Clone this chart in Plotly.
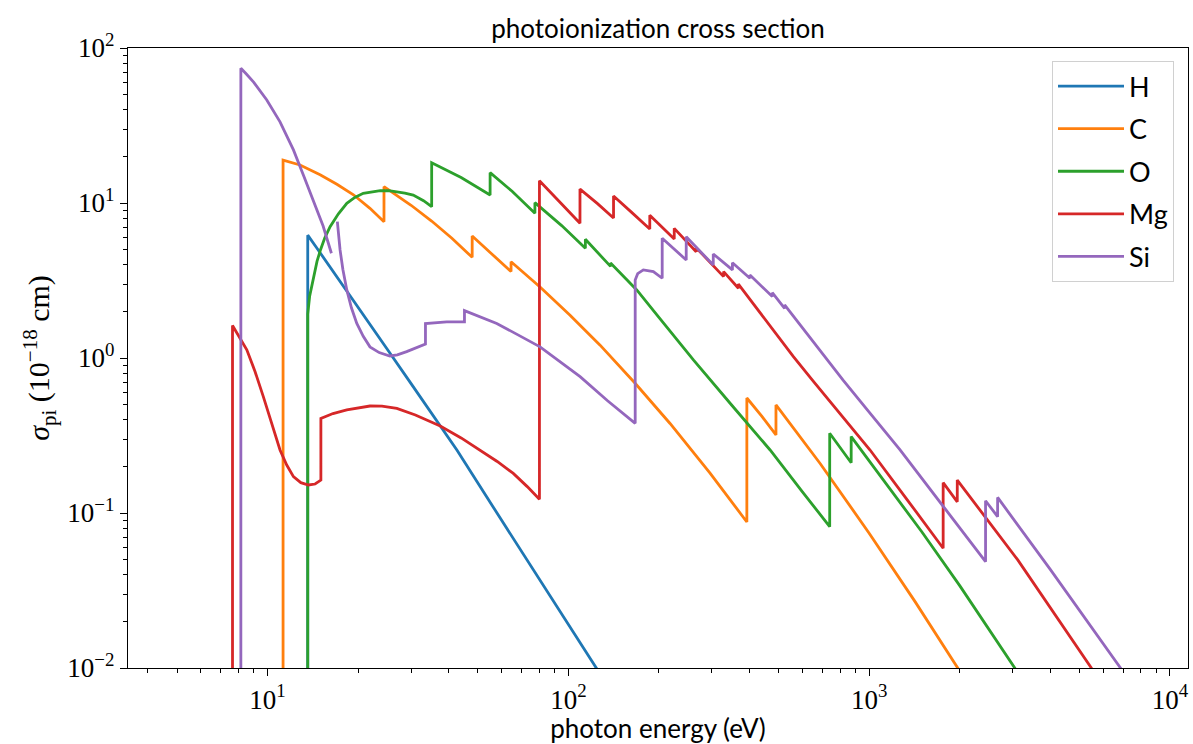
import plotly.graph_objects as go

# ---------------- data (photon energy in eV, cross section in 1e-18 cm^2) ----------------
E_H = [13.6, 13.6, 14.5, 16, 19.3, 25, 30, 38.4, 42.6, 60, 80, 109.4, 124, 150]
S_H = [1e-3, 6.2, 5.2, 3.96, 2.37, 1.14, 0.683, 0.343, 0.255, 0.0897, 0.0374, 0.0144, 0.0100, 0.0056]

E_C = [11.26, 11.26, 12.82, 13.8, 14.95, 17, 19.3, 21.9, 23.1, 24.38, 24.38, 27, 30, 35.1, 41,
       47.89, 47.89, 56, 64.49, 64.49, 80.5, 101.3, 127.5, 166.7, 217.8, 295.8, 392.1, 392.1,
       440, 490.0, 490.0, 688, 1000, 1421, 1975, 2374]
S_C = [1e-3, 18.9, 17.6, 16.5, 15.2, 13.2, 11.3, 9.24, 8.37, 7.58, 12.75, 11.1, 9.67, 7.65, 5.93,
       4.46, 6.12, 4.64, 3.61, 4.18, 2.87, 1.89, 1.21, 0.687, 0.378, 0.181, 0.0875, 0.552,
       0.42, 0.319, 0.498, 0.208, 0.0741, 0.0268, 0.0100, 0.0057]

E_O = [13.6, 13.6, 13.8, 14.2, 14.6, 15.0, 15.5, 16.14, 17.2, 18.34, 19.5, 20.8, 22.2, 23.7,
       25.3, 26.9, 28.6, 30.5, 33, 35.12, 35.12, 44, 54.93, 54.93, 65, 77.41, 77.41, 95,
       113.9, 113.9, 138.1, 138.1, 168.8, 200, 260.4, 350, 468.5, 600, 739.3, 739.3, 871.4,
       871.4, 1500, 2000, 3055, 3500]
S_O = [1e-3, 1.92, 2.5, 3.35, 4.2, 5.0, 5.96, 7.04, 8.51, 9.95, 10.86, 11.55, 11.83, 12.0,
       12.0, 11.8, 11.56, 11.26, 10.35, 9.47, 18.2, 14.6, 11.26, 15.7, 11.9, 8.58, 10.05, 7.15,
       5.1, 5.83, 3.90, 4.10, 2.75, 1.83, 0.971, 0.494, 0.255, 0.137, 0.0816, 0.327, 0.211,
       0.311, 0.0751, 0.0340, 0.0100, 0.0067]

E_Mg = [7.646, 7.646, 8.53, 9.09, 9.68, 10.33, 11.0, 11.58, 12.19, 12.9, 13.67, 14.39, 15.04,
        15.04, 16.5, 18.34, 21.9, 24, 26.9, 31, 37.5, 44, 50.9, 58, 65.6, 73, 80.14, 80.14,
        95, 109.3, 109.3, 125, 141.3, 141.3, 162, 186.5, 186.5, 224.9, 224.9, 266.0, 266.0,
        328.2, 328.2, 367.5, 367.5, 450, 560, 647.5, 800, 1007, 1350, 1762, 1762, 1963, 1963,
        3119, 5480, 6500]
S_Mg = [1e-3, 1.62, 1.13, 0.816, 0.563, 0.379, 0.255, 0.204, 0.1715, 0.157, 0.1516, 0.1538,
        0.163, 0.408, 0.438, 0.462, 0.490, 0.489, 0.473, 0.429, 0.364, 0.305, 0.255, 0.215,
        0.180, 0.148, 0.1226, 13.9, 9.84, 7.40, 12.3, 9.9, 8.0, 11.1, 8.73, 6.8, 8.35, 5.85,
        6.86, 4.85, 5.15, 3.35, 3.61, 2.82, 3.0, 1.77, 1.02, 0.721, 0.439, 0.255, 0.119,
        0.0592, 0.157, 0.118, 0.163, 0.0498, 0.0100, 0.0063]

E_Si = [8.15, 8.15, 8.5, 9.0, 9.94, 10.5, 11.0, 11.6, 12.19, 13.2, 14.2, 15.3, 16.3, None,
        17.06, 17.42, 17.8, 18.34, 19.0, 19.8, 20.8, 21.9, 23.5, 25.5, 27, 29.0, 33.49, 33.49,
        39.4, 45.14, 45.14, 57.8, 68, 80.5, 109.4, 135, 166.8, 166.8, 170, 177.5, 191.7,
        205.1, 205.1, 246.5, 246.5, 303.2, 303.2, 351.1, 351.1, 401.4, 401.4, 476.4, 476.4,
        523.5, 523.5, 650, 819, 1000, 1267, 1800, 2437.7, 2437.7, 2673.2, 2673.2, 4000,
        6850, 8000]
S_Si = [1e-3, 74.0, 67.9, 60.0, 46.2, 38.8, 33.4, 26.9, 22.0, 14.9, 10.46, 7.1, 4.74, None,
        7.58, 4.98, 3.72, 2.75, 2.11, 1.67, 1.38, 1.18, 1.084, 1.03, 1.047, 1.10, 1.23, 1.67,
        1.71, 1.71, 2.02, 1.67, 1.41, 1.18, 0.758, 0.530, 0.379, 3.19, 3.5, 3.70, 3.61,
        3.27, 5.92, 4.29, 6.06, 3.98, 4.69, 3.70, 4.12, 3.27, 3.43, 2.49, 2.64,
        2.09, 2.20, 1.28, 0.721, 0.448, 0.255, 0.1046, 0.0485, 0.120, 0.0947, 0.126, 0.0433,
        0.0100, 0.0066]

series = [("H", E_H, S_H, "#1f77b4"),
          ("C", E_C, S_C, "#ff7f0e"),
          ("O", E_O, S_O, "#2ca02c"),
          ("Mg", E_Mg, S_Mg, "#d62728"),
          ("Si", E_Si, S_Si, "#9467bd")]

x_major = [10, 100, 1000, 10000]
x_major_text = ["10<sup>1</sup>", "10<sup>2</sup>", "10<sup>3</sup>", "10<sup>4</sup>"]
y_major = [0.01, 0.1, 1, 10, 100]
y_major_text = ["10<sup>−2</sup>", "10<sup>−1</sup>", "10<sup>0</sup>", "10<sup>1</sup>", "10<sup>2</sup>"]

x_minor = [m * 10 ** k for k in range(0, 5) for m in range(2, 10)]
y_minor = [m * 10.0 ** k for k in range(-2, 2) for m in range(2, 10)]

fig = go.Figure()
for name, xs, ys, col in series:
    fig.add_trace(go.Scatter(x=xs, y=ys, mode="lines", name=name, legendgroup=name,
                             line=dict(color=col, width=2.8), connectgaps=False))

serif = "Liberation Serif, DejaVu Serif, serif"
sans = "Lato, DejaVu Sans, sans-serif"

fig.update_layout(
    width=1193, height=744, autosize=False,
    margin=dict(l=128, r=5, t=48, b=76),
    paper_bgcolor="white", plot_bgcolor="white",
    title=dict(text="photoionization cross section", x=0.5, xref="paper", xanchor="center",
               y=1 - 29 / 744, yref="container", yanchor="middle",
               font=dict(family=sans, size=26, color="black")),
    legend=dict(x=0.9868, xanchor="right", y=0.979, yanchor="top",
                bgcolor="white", bordercolor="#d0d0d0", borderwidth=1,
                font=dict(family=sans, size=27, color="black"),
                tracegroupgap=4.5, itemwidth=66),
    showlegend=True,
)

fig.update_xaxes(type="log", range=[0.536, 4.060], showgrid=False, zeroline=False,
                 showline=True, linecolor="black", linewidth=1.3, mirror=True,
                 ticks="outside", ticklen=7, tickwidth=1.3, tickcolor="black",
                 tickvals=x_major, ticktext=x_major_text,
                 tickfont=dict(family=serif, size=27, color="black"),
                 minor=dict(tickvals=x_minor, ticks="outside", ticklen=4, tickwidth=1, tickcolor="black"),
                 title=dict(text="photon energy (eV)", font=dict(family=sans, size=26, color="black"),
                            standoff=6))
fig.update_yaxes(type="log", range=[-2, 2], showgrid=False, zeroline=False,
                 showline=True, linecolor="black", linewidth=1.3, mirror=True,
                 ticks="outside", ticklen=7, tickwidth=1.3, tickcolor="black",
                 tickvals=y_major, ticktext=y_major_text,
                 tickfont=dict(family=serif, size=27, color="black"),
                 minor=dict(tickvals=y_minor, ticks="outside", ticklen=4, tickwidth=1, tickcolor="black"),
                 title=dict(text="<i>σ</i><sub>pi</sub> (10<sup>−18</sup> cm)",
                            font=dict(family=serif, size=30, color="black"), standoff=8))

fig.write_html("out.html", config={"displayModeBar": False},
               post_script="document.body.style.margin='0px';")
